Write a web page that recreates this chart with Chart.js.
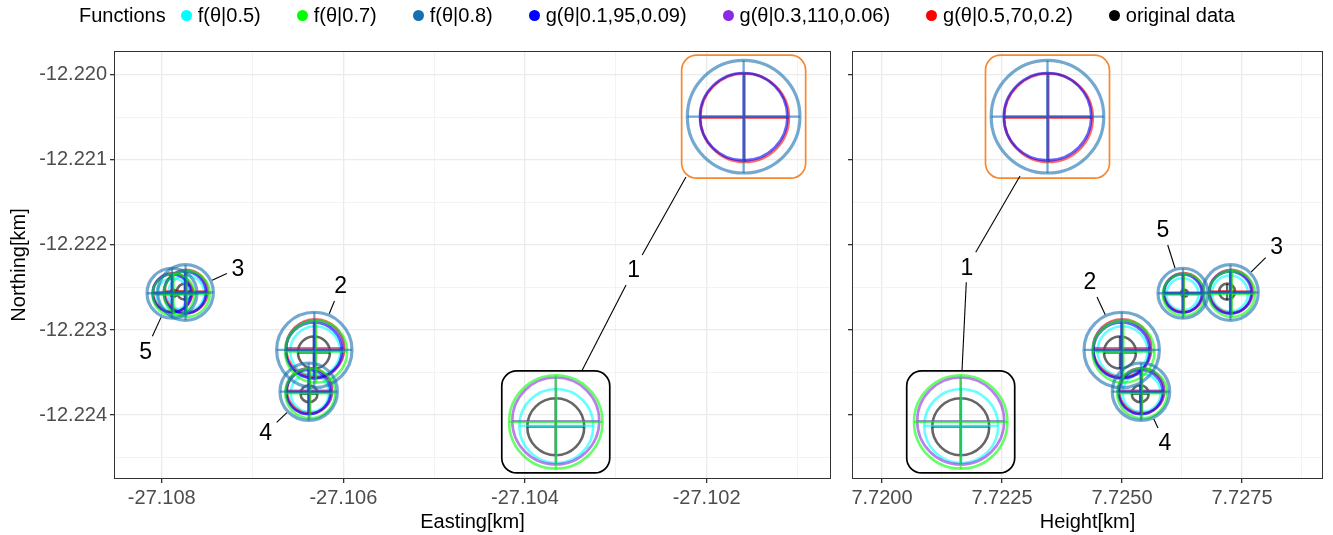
<!DOCTYPE html>
<html>
<head>
<meta charset="utf-8">
<script src="https://cdn.jsdelivr.net/npm/chart.js@4.4.1/dist/chart.umd.min.js"></script>
<style>
  html, body { margin: 0; padding: 0; background: #fff; }
  #wrap { position: relative; width: 1333px; height: 535px; overflow: hidden;
          font-family: "Liberation Sans", Arial, sans-serif; }
  #left  { position: absolute; left: 0; top: 0; }
  #right { position: absolute; left: 840px; top: 0; }
  #legend { position: absolute; left: 79px; top: 2px; height: 26px; display: flex;
            align-items: center; font-size: 20px; color: #000; white-space: nowrap; z-index: 2; }
  #legend .title { margin-right: 15px; }
  #legend .item { display: flex; align-items: center; margin-right: 36px; }
  #legend .dot { width: 11px; height: 11px; border-radius: 50%; margin-right: 6px; }
</style>
</head>
<body>
<div id="wrap">
  <canvas id="left" width="840" height="535"></canvas>
  <canvas id="right" width="493" height="535"></canvas>
  <div id="legend"></div>
</div>
<script>
// ---- point identifiers ----
const pointIds = ['1', '2', '3', '4', '5'];

// ---- function names (legend order) ----
const functionNames = ['f(θ|0.5)', 'f(θ|0.7)', 'f(θ|0.8)', 'g(θ|0.1,95,0.09)',
                       'g(θ|0.3,110,0.06)', 'g(θ|0.5,70,0.2)', 'original data'];

// ---- estimated locations [km] and uncertainty ring sizes, per point 1..5 ----
const eastF05 = [-27.103655, -27.106310, -27.107730, -27.106370, -27.107880];
const northF05 = [-12.224129, -12.223250, -12.222570, -12.223740, -12.222580];
const heightF05 = [7.721650, 7.725010, 7.727250, 7.725410, 7.726260];
const sizeF05 = [37, 25, 18, 19, 16];

const eastF07 = [-27.103661, -27.106300, -27.107725, -27.106365, -27.107870];
const northF07 = [-12.224082, -12.223255, -12.222575, -12.223745, -12.222585];
const heightF07 = [7.721640, 7.725030, 7.727290, 7.725420, 7.726290];
const sizeF07 = [46.7, 31, 23, 25, 21];

const eastF08 = [-27.101592, -27.106320, -27.107738, -27.106382, -27.107887];
const northF08 = [-12.220491, -12.223235, -12.222559, -12.223726, -12.222568];
const heightF08 = [7.723448, 7.724994, 7.727260, 7.725396, 7.726271];
const sizeF08 = [56.3, 37.7, 27.8, 28.7, 25];

const eastG1 = [-27.101592, -27.106325, -27.107745, -27.106385, -27.107890];
const northG1 = [-12.220491, -12.223240, -12.222560, -12.223730, -12.222570];
const heightG1 = [7.723448, 7.724990, 7.727255, 7.725390, 7.726265];
const sizeG1 = [43.7, 28, 21, 22, 19];

const eastG2 = [-27.103661, -27.106318, -27.107740, -27.106380, -27.107885];
const northG2 = [-12.224071, -12.223230, -12.222555, -12.223720, -12.222565];
const heightG2 = [7.721640, 7.724995, 7.727262, 7.725398, 7.726272];
const sizeG2 = [43.5, 29, 21.5, 23, 19.5];

const eastG3 = [-27.101581, -27.106310, -27.107730, -27.106372, -27.107880];
const northG3 = [-12.220503, -12.223215, -12.222545, -12.223715, -12.222560];
const heightG3 = [7.723469, 7.725005, 7.727275, 7.725410, 7.726285];
const sizeG3 = [44.3, 29, 21.5, 22.5, 19.5];

const eastOrig = [-27.103661, -27.106324, -27.107745, -27.106378, -27.107870];
const northOrig = [-12.224138, -12.223265, -12.222549, -12.223750, -12.222568];
const heightOrig = [7.721640, 7.724958, 7.727190, 7.725380, 7.726300];
const sizeOrig = [28.5, 16, 8, 8.5, 3.5];

// ---- axis ticks ----
const eastMajor = [-27.108, -27.106, -27.104, -27.102];
const eastLabels = ['-27.108', '-27.106', '-27.104', '-27.102'];
const eastMinor = [-27.107, -27.105, -27.103, -27.101];
const heightMajor = [7.7200, 7.7225, 7.7250, 7.7275];
const heightLabels = ['7.7200', '7.7225', '7.7250', '7.7275'];
const heightMinor = [7.72125, 7.72375, 7.72625, 7.72875];
const northMajor = [-12.220, -12.221, -12.222, -12.223, -12.224];
const northLabels = ['-12.220', '-12.221', '-12.222', '-12.223', '-12.224'];
const northMinor = [-12.2205, -12.2215, -12.2225, -12.2235, -12.2245];

// ---- axis ranges ----
const eastRange = [-27.108526, -27.100630];
const heightRange = [7.719375, 7.729188];
const northRange = [-12.224753, -12.219718];

// ---- series styling ----
const FONT = '"Liberation Sans", Arial, sans-serif';
const series = {
  f05:  { name: functionNames[0], color: '0,255,255',  legend: '#00FFFF', east: eastF05,  north: northF05,  height: heightF05,  size: sizeF05,  width: 2.6 },
  f07:  { name: functionNames[1], color: '0,255,0',    legend: '#00FF00', east: eastF07,  north: northF07,  height: heightF07,  size: sizeF07,  width: 2.6 },
  f08:  { name: functionNames[2], color: '22,112,176', legend: '#1670B0', east: eastF08,  north: northF08,  height: heightF08,  size: sizeF08,  width: 3.2 },
  g1:   { name: functionNames[3], color: '0,0,255',    legend: '#0000FF', east: eastG1,   north: northG1,   height: heightG1,   size: sizeG1,   width: 2.6 },
  g2:   { name: functionNames[4], color: '138,43,226', legend: '#8A2BE2', east: eastG2,   north: northG2,   height: heightG2,   size: sizeG2,   width: 2.6 },
  g3:   { name: functionNames[5], color: '255,0,0',    legend: '#FF0000', east: eastG3,   north: northG3,   height: heightG3,   size: sizeG3,   width: 2.6 },
  orig: { name: functionNames[6], color: '0,0,0',      legend: '#000000', east: eastOrig, north: northOrig, height: heightOrig, size: sizeOrig, width: 2.6 }
};
const legendOrder = ['f05', 'f07', 'f08', 'g1', 'g2', 'g3', 'orig'];
// first entry is painted on top
const paintOrder = ['f08', 'f07', 'g1', 'g2', 'g3', 'f05', 'orig'];

// ---- label placement (pixel offsets from the marked ring centre) ----
const labelLayout = {
  east: [
    { text: '1', fn: 'f07', i: 0, dx: 78, dy: -152,
      leaders: [{ fn: 'f07', i: 0, ax: 26, ay: -51 }, { fn: 'f08', i: 0, ax: -57.7, ay: 60.3 }] },
    { text: '2', fn: 'f08', i: 1, dx: 26.3, dy: -64 },
    { text: '3', fn: 'f08', i: 2, dx: 52.3, dy: -24.2 },
    { text: '4', fn: 'f08', i: 3, dx: -43, dy: 41.3 },
    { text: '5', fn: 'f08', i: 4, dx: -26.5, dy: 58 }
  ],
  height: [
    { text: '1', fn: 'f07', i: 0, dx: 6.3, dy: -154.8,
      leaders: [{ fn: 'f07', i: 0, ax: 1.3, ay: -51.5 }, { fn: 'f08', i: 0, ax: -27.5, ay: 59.3 }] },
    { text: '2', fn: 'f08', i: 1, dx: -31.7, dy: -68 },
    { text: '3', fn: 'f08', i: 2, dx: 46.2, dy: -45.8 },
    { text: '4', fn: 'f08', i: 3, dx: 24, dy: 51.3 },
    { text: '5', fn: 'f08', i: 4, dx: -20, dy: -63.3 }
  ]
};
// highlight frames around the two estimates of point 1
const frames = [
  { fn: 'f08', i: 0, halfW: 62, halfH: 61.5, color: '#F7882F' },
  { fn: 'f07', i: 0, halfW: 54, halfH: 51, color: '#000000' }
];

// ---- legend ----
const legendEl = document.getElementById('legend');
legendEl.innerHTML = '<span class="title">Functions</span>' + legendOrder.map(k =>
  `<span class="item"><span class="dot" style="background:${series[k].legend}"></span><span>${series[k].name}</span></span>`
).join('');

// ---- helpers ----
const near = (a, b) => Math.abs(a - b) < 1e-7;
const isIn = (list, v) => list.some(t => near(t, v));
const labelFor = (list, labels, v) => { const i = list.findIndex(t => near(t, v)); return i < 0 ? '' : labels[i]; };

function buildDatasets(xKey) {
  const out = [];
  paintOrder.forEach(k => {
    const s = series[k];
    const pts = s[xKey].map((x, i) => ({ x, y: s.north[i] }));
    const stroke = `rgba(${s.color},0.6)`;
    out.push({ label: s.name + ' cross', data: pts, pointStyle: 'cross', pointRadius: s.size,
               pointBorderColor: stroke, pointBorderWidth: 2.3, pointBackgroundColor: 'rgba(0,0,0,0)', showLine: false });
    out.push({ label: s.name, data: pts, pointStyle: 'circle', pointRadius: s.size,
               pointBorderColor: stroke, pointBorderWidth: s.width, pointBackgroundColor: 'rgba(0,0,0,0)', showLine: false });
  });
  return out;
}

function roundRect(ctx, x, y, w, h, r) {
  ctx.beginPath();
  ctx.moveTo(x + r, y);
  ctx.arcTo(x + w, y, x + w, y + h, r);
  ctx.arcTo(x + w, y + h, x, y + h, r);
  ctx.arcTo(x, y + h, x, y, r);
  ctx.arcTo(x, y, x + w, y, r);
  ctx.closePath();
}

const annotate = {
  id: 'annotate',
  afterDatasetsDraw(chart, args, opts) {
    const { ctx, scales: { x, y } } = chart;
    const xKey = opts.xKey;
    const centre = (fn, i) => ({ px: x.getPixelForValue(series[fn][xKey][i]), py: y.getPixelForValue(series[fn].north[i]) });
    ctx.save();
    // frames
    frames.forEach(f => {
      const c = centre(f.fn, f.i);
      ctx.strokeStyle = f.color;
      ctx.lineWidth = 1.7;
      roundRect(ctx, c.px - f.halfW, c.py - f.halfH, 2 * f.halfW, 2 * f.halfH, 15);
      ctx.stroke();
    });
    // leaders and labels
    ctx.strokeStyle = '#000';
    ctx.lineWidth = 1.1;
    labelLayout[xKey].forEach(l => {
      const a = centre(l.fn, l.i);
      const lx = a.px + l.dx, ly = a.py + l.dy;
      let targets;
      if (l.leaders) {
        targets = l.leaders.map(t => { const c = centre(t.fn, t.i); return { x: c.px + t.ax, y: c.py + t.ay }; });
      } else {
        const r = series[l.fn].size[l.i] + 1.5;
        const d = Math.hypot(l.dx, l.dy);
        targets = [{ x: a.px + l.dx / d * r, y: a.py + l.dy / d * r }];
      }
      targets.forEach(t => {
        const vx = t.x - lx, vy = t.y - ly;
        const len = Math.hypot(vx, vy);
        const ux = vx / len, uy = vy / len;
        const k = Math.min(11 / Math.max(Math.abs(ux), 1e-6), 15 / Math.max(Math.abs(uy), 1e-6));
        if (k >= len) return;
        ctx.beginPath();
        ctx.moveTo(lx + ux * k, ly + uy * k);
        ctx.lineTo(t.x, t.y);
        ctx.stroke();
      });
      ctx.fillStyle = '#000';
      ctx.font = `23px ${FONT}`;
      ctx.textAlign = 'center';
      ctx.textBaseline = 'middle';
      ctx.fillText(l.text, lx, ly + 1);
    });
    ctx.restore();
  },
  afterDraw(chart) {
    const { ctx, chartArea: a } = chart;
    ctx.save();
    ctx.strokeStyle = '#333333';
    ctx.lineWidth = 1;
    ctx.strokeRect(a.left + 0.5, a.top + 0.5, a.right - a.left - 1, a.bottom - a.top - 1);
    ctx.restore();
  }
};

function gridStyle(major) {
  return {
    color: c => (c.tick && isIn(major, c.tick.value)) ? '#EBEBEB' : '#F0F0F0',
    lineWidth: c => (c.tick && isIn(major, c.tick.value)) ? 1.3 : 0.8,
    tickColor: c => (c.tick && isIn(major, c.tick.value)) ? '#333333' : 'rgba(0,0,0,0)',
    tickLength: 4,
    drawOnChartArea: true
  };
}

function noPadding(s) { s.paddingLeft = 0; s.paddingRight = 0; s.paddingTop = 0; s.paddingBottom = 0; }

function panel(canvasId, xKey, xRange, xMajor, xMinor, xLabels, xTitle, showY, yWidth, padRight) {
  const xTicks = xMajor.concat(xMinor).sort((a, b) => a - b);
  const yTicks = northMajor.concat(northMinor).sort((a, b) => a - b);
  return new Chart(document.getElementById(canvasId), {
    type: 'scatter',
    data: { datasets: buildDatasets(xKey) },
    plugins: [annotate],
    options: {
      responsive: false,
      animation: false,
      events: [],
      layout: { autoPadding: false, padding: { top: 51, right: padRight, bottom: 0, left: 0 } },
      plugins: { legend: { display: false }, tooltip: { enabled: false }, annotate: { xKey } },
      scales: {
        x: {
          type: 'linear', min: xRange[0], max: xRange[1],
          afterBuildTicks: s => { s.ticks = xTicks.map(v => ({ value: v })); },
          afterFit: s => { s.height = 56; noPadding(s); },
          ticks: { autoSkip: false, maxRotation: 0, minRotation: 0, color: '#4D4D4D', padding: 3,
                   font: { size: 20, family: FONT }, callback: v => labelFor(xMajor, xLabels, v) },
          grid: gridStyle(xMajor),
          border: { display: false },
          title: { display: true, text: xTitle, color: '#000', font: { size: 20, family: FONT },
                   padding: { top: 0, bottom: 1 } }
        },
        y: {
          type: 'linear', min: northRange[0], max: northRange[1],
          afterBuildTicks: s => { s.ticks = yTicks.map(v => ({ value: v })); },
          afterFit: s => { s.width = yWidth; noPadding(s); },
          ticks: { autoSkip: false, color: '#4D4D4D', padding: 3, display: showY,
                   font: { size: 20, family: FONT }, callback: v => labelFor(northMajor, northLabels, v) },
          grid: gridStyle(northMajor),
          border: { display: false },
          title: { display: showY, text: 'Northing[km]', color: '#000', font: { size: 20, family: FONT },
                   padding: { top: 7, bottom: 0 } }
        }
      }
    }
  });
}

panel('left', 'east', eastRange, eastMajor, eastMinor, eastLabels, 'Easting[km]', true, 114, 9);
panel('right', 'height', heightRange, heightMajor, heightMinor, heightLabels, 'Height[km]', false, 12, 10);
</script>
</body>
</html>
